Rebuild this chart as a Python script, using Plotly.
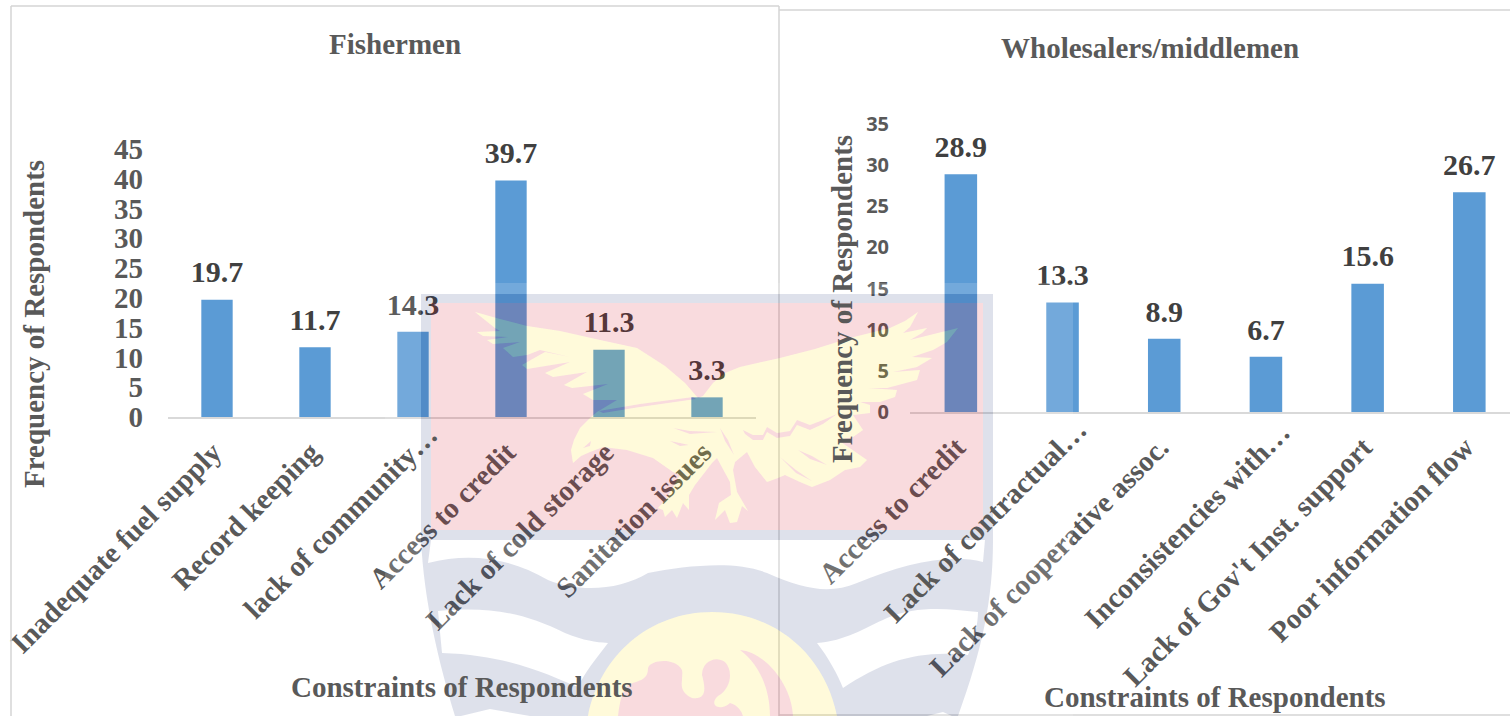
import plotly.graph_objects as go

# Survey results: share of respondents reporting each constraint
fisher_categories = [
    "Inadequate fuel supply", "Record keeping", "lack of community…",
    "Access to credit", "Lack of cold storage", "Sanitation issues",
]
fisher_values = [19.7, 11.7, 14.3, 39.7, 11.3, 3.3]

trader_categories = [
    "Access to credit", "Lack of contractual…", "Lack of cooperative assoc.",
    "Inconsistencies with…", "Lack of Gov't Inst. support", "Poor information flow",
]
trader_values = [28.9, 13.3, 8.9, 6.7, 15.6, 26.7]

WIDTH, HEIGHT = 1510, 716
SERIF = "Liberation Serif"
BAR = "#5b9bd5"
GREY = "#595959"
DARK = "#404040"
FRAME = "#d4d4d4"


def px(x):
    return x / WIDTH


def py(y):
    return 1 - y / HEIGHT


def poly(points):
    """Closed polygon path from pixel points, in paper coordinates."""
    head, *rest = points
    d = f"M{px(head[0]):.5f},{py(head[1]):.5f}"
    d += "".join(f"L{px(x):.5f},{py(y):.5f}" for x, y in rest)
    return d + "Z"


def curve(start, *segments):
    """Closed path of cubic segments; each segment holds three pixel points."""
    d = f"M{px(start[0]):.5f},{py(start[1]):.5f}"
    for seg in segments:
        if len(seg) == 1:
            d += f"L{px(seg[0][0]):.5f},{py(seg[0][1]):.5f}"
        else:
            d += "C" + " ".join(f"{px(x):.5f},{py(y):.5f}" for x, y in seg)
    return d + "Z"


# University crest drawn across the page as a translucent overlay
EAGLE = poly([
    (475, 312), (500, 319), (527, 326), (560, 331), (600, 340), (637, 348), (665, 366),
    (685, 383), (698, 398), (703, 396), (713, 383), (725, 373), (740, 367), (780, 358),
    (815, 349), (850, 338), (890, 328), (905, 321), (918, 312), (910, 327), (903, 333),
    (927, 328), (922, 333), (910, 340), (958, 328), (947, 342), (933, 350), (912, 357),
    (932, 358), (917, 367), (893, 372), (920, 370), (917, 380), (887, 388), (868, 388),
    (897, 390), (895, 397), (880, 402), (860, 402), (870, 405), (870, 413), (853, 415),
    (863, 430), (853, 437), (838, 440), (867, 460), (860, 467), (845, 470), (830, 480),
    (812, 487), (800, 482), (785, 475), (778, 478), (767, 482), (755, 467), (747, 452),
    (735, 462), (733, 470), (737, 492), (748, 511), (742, 506), (737, 522), (730, 523),
    (725, 510), (715, 520), (719, 503), (731, 495), (730, 482), (717, 458), (712, 463),
    (695, 485), (689, 495), (689, 510), (683, 503), (677, 518), (672, 510), (665, 517),
    (663, 510), (658, 508), (667, 498), (673, 487), (680, 475), (673, 472), (653, 458),
    (627, 450), (603, 447), (590, 452), (581, 456), (573, 463), (571, 450), (574, 440),
    (580, 428), (590, 418), (597, 412), (617, 400), (593, 400), (583, 394), (608, 384),
    (572, 388), (564, 385), (587, 372), (553, 377), (545, 373), (570, 362), (527, 369),
    (522, 365), (545, 352), (570, 357), (540, 350), (527, 355), (513, 357), (503, 348),
    (520, 342), (493, 344), (487, 340), (508, 337), (483, 336), (477, 332), (500, 331),
    (495, 328),
])
EAGLE_MARKS = [
    poly([(599, 411), (640, 404), (693, 397), (696, 399), (640, 407), (603, 413)]),
    poly([(743, 430), (753, 435), (763, 435), (767, 427), (777, 433), (790, 431), (797, 420),
          (810, 425), (823, 420), (837, 414), (823, 424), (810, 430), (797, 425), (790, 436),
          (777, 438), (767, 432), (763, 440), (753, 440), (745, 434)]),
    poly([(780, 457), (796, 470), (812, 481), (796, 473)]),
    poly([(798, 450), (812, 456), (827, 465), (810, 459)]),
    poly([(583, 448), (591, 441), (590, 446)]),
    poly([(673, 428), (690, 431), (717, 432), (690, 434)]),
    poly([(670, 441), (680, 443), (689, 445), (680, 446)]),
    poly([(720, 428), (728, 440), (734, 455), (725, 441)]),
]

SHIELD_OUTER = curve(
    (421, 294), [(993, 294)], [(993, 540)],
    [(993, 600), (982, 650), (958, 716)], [(455, 716)],
    [(438, 660), (424, 600), (421, 540)],
)
INNER_PANEL = poly([(431, 303), (983, 303), (983, 530), (431, 530)])
WHITE_BAND = curve(
    (431, 540), [(985, 540)], [(983, 562)],
    [(950, 553), (905, 563), (857, 583)], [(830, 594), (805, 590), (767, 573)],
    [(735, 560), (685, 566), (648, 573)], [(620, 590), (580, 593), (548, 580)],
    [(510, 558), (470, 552), (428, 563)],
)
LEFT_STRIPE = curve(
    (438, 611), [(490, 606), (525, 613), (565, 633)], [(585, 641), (595, 642), (608, 643)],
    [(595, 660), (585, 672), (578, 687)], [(550, 676), (510, 655), (442, 653)],
)
RIGHT_STRIPE = curve(
    (817, 643), [(845, 641), (865, 628), (887, 618)], [(915, 606), (945, 608), (978, 612)],
    [(978, 622), (975, 640), (968, 655)], [(920, 650), (885, 660), (843, 688)],
    [(838, 675), (828, 657), (817, 643)],
)
FOOT_LEFT = poly([(461, 716), (490, 709), (530, 716)])
FOOT_RIGHT = poly([(927, 716), (943, 712), (952, 716)])
DISC = curve(
    (588, 716), [(600, 655), (650, 612), (712, 612)], [(775, 612), (825, 655), (837, 716)],
)
DRAGON = curve(
    (618, 716), [(620, 700), (622, 692), (628, 685)], [(640, 680), (648, 680), (648, 668)],
    [(650, 660), (675, 657), (682, 670)], [(684, 680), (676, 690), (692, 698)],
    [(706, 700), (706, 690), (702, 675)], [(702, 662), (715, 655), (725, 662)],
    [(733, 670), (732, 688), (718, 696)], [(708, 705), (720, 712), (730, 703)],
    [(738, 705), (742, 712), (743, 716)],
)
CRESCENT = curve(
    (740, 650), [(765, 652), (792, 685), (793, 716)], [(770, 716)],
    [(770, 690), (760, 665), (740, 650)],
)

TINT_RED = "rgba(212,0,19,0.14)"
TINT_NAVY = "rgba(19,41,112,0.14)"
TINT_GOLD = "rgba(255,222,8,0.15)"
TINT_WHITE = "rgba(255,255,255,0.15)"


def overlay(path, fill):
    return dict(type="path", xref="paper", yref="paper", path=path, fillcolor=fill,
                fillrule="evenodd", line=dict(width=0), layer="above")


def rule(x0, y0, x1, y1):
    return dict(type="line", xref="paper", yref="paper", x0=px(x0), y0=py(y0), x1=px(x1),
                y1=py(y1), line=dict(color=FRAME, width=1.5), layer="above")


shield_holes = [INNER_PANEL, WHITE_BAND, LEFT_STRIPE, RIGHT_STRIPE, FOOT_LEFT, FOOT_RIGHT, DISC]
halo_rect = poly([(385, 283), (1073, 283), (1073, 716), (385, 716)])

shapes = [
    rule(11, 6, 779, 6),
    rule(11, 6, 11, 716),
    rule(779, 6, 779, 716),
    rule(779, 10, 1510, 10),
    rule(779, 715, 1510, 715),
    overlay(halo_rect + SHIELD_OUTER + WHITE_BAND + LEFT_STRIPE + RIGHT_STRIPE
            + FOOT_LEFT + FOOT_RIGHT, TINT_WHITE),
    overlay(SHIELD_OUTER + "".join(shield_holes), TINT_NAVY),
    overlay(INNER_PANEL + EAGLE + "".join(EAGLE_MARKS), TINT_RED),
    overlay(EAGLE + "".join(EAGLE_MARKS) + DISC + DRAGON + CRESCENT, TINT_GOLD),
    overlay(DRAGON + CRESCENT, TINT_RED),
]


def bars(categories, values, xaxis, yaxis):
    return go.Bar(x=categories, y=values, xaxis=xaxis, yaxis=yaxis,
                  marker=dict(color=BAR, line=dict(width=0)), hoverinfo="skip")


def value_labels(categories, values, xaxis, yaxis):
    # The invisible marker lifts the text clear of the bar top
    return go.Scatter(x=categories, y=values, xaxis=xaxis, yaxis=yaxis, mode="markers+text",
                      text=[f"{v:g}" for v in values], textposition="top center",
                      textfont=dict(family=SERIF, size=30, color=DARK, weight="bold"),
                      marker=dict(size=14, opacity=0), cliponaxis=False, hoverinfo="skip")


def caption(text, x, y, size=29, angle=0):
    return dict(text=f"<b>{text}</b>", xref="paper", yref="paper", x=px(x), y=py(y),
                xanchor="center", yanchor="middle", showarrow=False, textangle=angle,
                font=dict(family=SERIF, size=size, color=GREY))


def tick_texts(categories):
    # Truncated names sit further along the slant, so they are placed as captions
    return ["" if c.endswith("…") else c for c in categories]


fig = go.Figure([
    bars(fisher_categories, fisher_values, "x", "y"),
    value_labels(fisher_categories, fisher_values, "x", "y"),
    bars(trader_categories, trader_values, "x2", "y2"),
    value_labels(trader_categories, trader_values, "x2", "y2"),
])

x_common = dict(type="category", tickangle=-45, ticks="", showgrid=False, zeroline=False,
                automargin=False, showline=True, linecolor="#d9d9d9", linewidth=1.5,
                ticklabelstandoff=5, ticklabelshift=-4,
                tickfont=dict(family=SERIF, size=29, color=GREY, weight="bold"))
y_common = dict(ticks="", showgrid=False, zeroline=False, showline=False, automargin=False)

fig.update_layout(
    width=WIDTH, height=HEIGHT, autosize=False,
    margin=dict(l=0, r=0, t=0, b=0), paper_bgcolor="white", plot_bgcolor="white",
    showlegend=False, bargap=0.68,
    xaxis=dict(x_common, domain=[px(168), px(756)], anchor="y", range=[-0.5, 5.5],
               categoryorder="array", categoryarray=fisher_categories,
               tickmode="array", tickvals=fisher_categories,
               ticktext=tick_texts(fisher_categories)),
    yaxis=dict(y_common, domain=[py(417), py(149)], anchor="x", range=[0, 45], dtick=5,
               ticklabelstandoff=24,
               tickfont=dict(family=SERIF, size=29, color=GREY, weight="bold")),
    xaxis2=dict(x_common, domain=[px(910), 1], anchor="y2", range=[-0.5, 5.4],
                categoryorder="array", categoryarray=trader_categories,
                tickmode="array", tickvals=trader_categories,
                ticktext=tick_texts(trader_categories)),
    yaxis2=dict(y_common, domain=[py(412), py(124)], anchor="x2", range=[0, 35], dtick=5,
                ticklabelstandoff=20,
                tickfont=dict(family="Open Sans", size=20, color=GREY, weight="bold")),
    shapes=shapes,
    annotations=[
        caption("Fishermen", 395, 44, 29),
        caption("Wholesalers/middlemen", 1150, 48, 29),
        caption("Constraints of Respondents", 462, 687, 29),
        caption("Constraints of Respondents", 1215, 697, 29),
        caption("Frequency of Respondents", 34, 324, 29, -90),
        caption("Frequency of Respondents", 842, 299, 29, -90),
        caption(fisher_categories[2], 340, 522, 29, -45),
        caption(trader_categories[1], 985, 521, 29, -45),
        caption(trader_categories[3], 1187, 525, 29, -45),
    ],
)

fig.write_html("out.html")
